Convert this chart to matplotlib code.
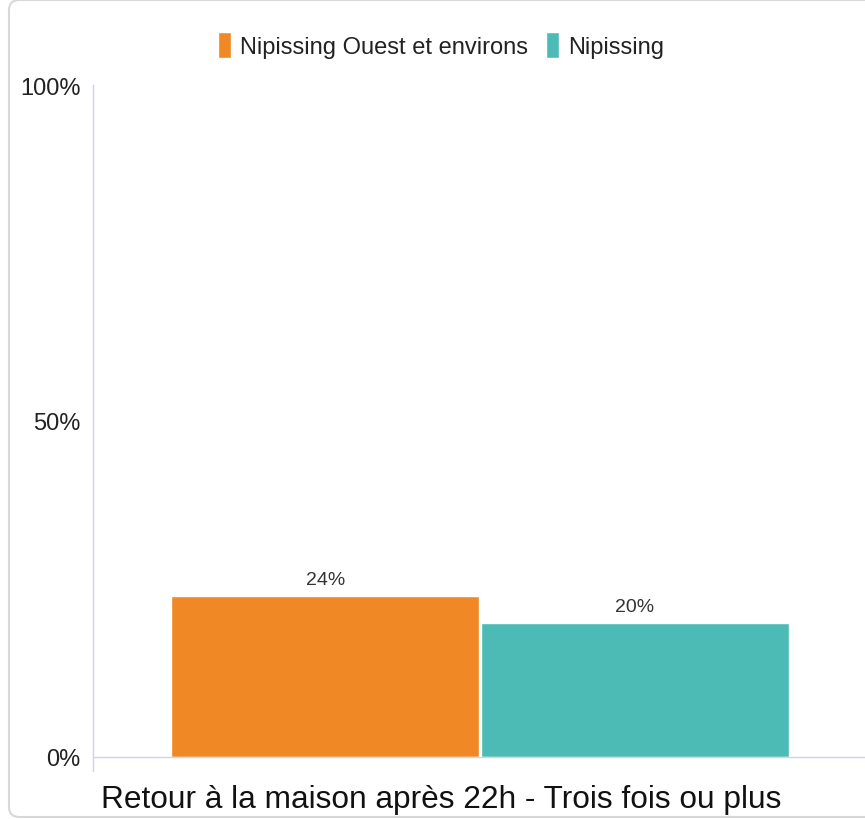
import matplotlib
matplotlib.use('Agg')
import matplotlib.pyplot as plt
from matplotlib.patches import FancyBboxPatch
import matplotlib.ticker as ticker

# Data
category = "Retour à la maison après 22h - Trois fois ou plus"
series_names = ["Nipissing Ouest et environs", "Nipissing"]
series_values = [24, 20]
series_colors = ["#F08825", "#4CBBB5"]
y_ticks = [0, 50, 100]

plt.rcParams['font.family'] = ['Liberation Sans', 'DejaVu Sans']

W, H = 865, 820
fig = plt.figure(figsize=(W / 100, H / 100), dpi=100)

# rounded frame around the chart
frame = FancyBboxPatch((9 / W, 2 / H), (W + 20) / W, (H - 3) / H,
                       boxstyle="round,pad=0,rounding_size=0.012",
                       transform=fig.transFigure, facecolor='none',
                       edgecolor='#d8d8d8', linewidth=1.5, zorder=-1)
fig.patches.append(frame)

ax = fig.add_axes([93 / W, 62 / H, 774 / W, 672 / H])
ax.set_facecolor('none')

bar_w = 0.398
offsets = [-bar_w / 2 - 0.001, bar_w / 2 + 0.001]
for name, val, col, off in zip(series_names, series_values, series_colors, offsets):
    ax.bar(off, val, width=bar_w, color=col, edgecolor='white', linewidth=1,
           label=name, zorder=2)
    ax.text(off, val + 1.2, f"{val}%", ha='center', va='bottom',
            fontsize=14, color='#333333')

ax.set_xlim(-0.5, 0.5)
ax.set_ylim(0, 100)
ax.set_xticks([])
ax.yaxis.set_major_locator(ticker.FixedLocator(y_ticks))
ax.yaxis.set_major_formatter(ticker.FuncFormatter(lambda v, p: f"{int(v)}%"))
ax.tick_params(axis='y', length=0, pad=9, labelsize=17, labelcolor='#222222')

for s in ['top', 'right']:
    ax.spines[s].set_visible(False)
ax.spines['left'].set_color('#ccd6eb')
ax.spines['bottom'].set_color('#ccd6eb')
ax.spines['left'].set_linewidth(1)
ax.spines['bottom'].set_linewidth(1)
ax.spines['left'].set_bounds(-2.1, 100)

leg = fig.legend(loc='center', bbox_to_anchor=(441 / W, 1 - 46 / H), ncol=2,
                 frameon=False, fontsize=17, handlelength=0.55, handleheight=1.3,
                 handletextpad=0.35, columnspacing=0.8, borderpad=0)
for t in leg.get_texts():
    t.set_color('#222222')

fig.text(441 / W, 20 / H, category, ha='center', va='center',
         fontsize=22.8, color='#111111')

fig.savefig('out.png', dpi=100)
